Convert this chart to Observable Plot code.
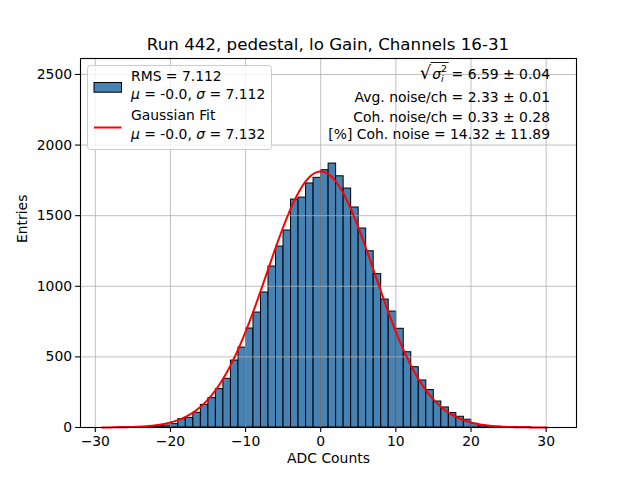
<!DOCTYPE html>
<html>
<head>
<meta charset="utf-8">
<script src="https://cdn.jsdelivr.net/npm/d3@7"></script>
<script src="https://cdn.jsdelivr.net/npm/@observablehq/plot@0.6"></script>
<style>
  html, body { margin: 0; padding: 0; background: #fff; }
  svg { font-family: "DejaVu Sans", sans-serif; }
</style>
</head>
<body>
<script>
// ---- data ----
const titleText = "Run 442, pedestal, lo Gain, Channels 16-31";
const binFirstEdge = -28.95;   // left edge of the first bin
const binWidth = 1;
// entries per bin (60 bins, left edges -28.95 ... 30.05)
const counts = [
  0, 0, 1, 1, 2, 3, 5, 9, 14, 24,
  59, 68, 104, 160, 208, 272, 345, 474, 566, 701,
  814, 956, 1140, 1281, 1395, 1614, 1628, 1728, 1768, 1822,
  1869, 1779, 1692, 1558, 1409, 1248, 1086, 906, 821, 699,
  533, 427, 333, 265, 184, 142, 102, 76, 55, 26,
  14, 9, 5, 3, 2, 1, 1, 0, 0, 0
];
// Gaussian fit parameters (from legend; amplitude read from the peak)
const fitMu = 0.0;
const fitSigma = 7.132;
const fitAmp = 1813;
const fitRange = [-29.1, 30.1];
const xTicks = [-30, -20, -10, 0, 10, 20, 30];
const yTicks = [0, 500, 1000, 1500, 2000, 2500];
const xDomain = [-31.97, 34.04];
const yDomain = [0, 2613];
const legendLines = [
  ["RMS = 7.112", ["μ", " = -0.0, ", "σ", " = 7.112"]],
  ["Gaussian Fit", ["μ", " = -0.0, ", "σ", " = 7.132"]]
];
const statsLines = [
  "Avg. noise/ch = 2.33 ± 0.01",
  "Coh. noise/ch = 0.33 ± 0.28",
  "[%] Coh. noise = 14.32 ± 11.89"
];
const sqrtValue = " = 6.59 ± 0.04";

// ---- derived tables ----
const bins = counts.map((c, i) => ({
  x1: binFirstEdge + i * binWidth,
  x2: binFirstEdge + (i + 1) * binWidth,
  n: c
}));
const fitX = d3.range(fitRange[0], fitRange[1] + 1e-9, 0.1);
const fit = fitX.map(x => ({x, y: fitAmp * Math.exp(-((x - fitMu) ** 2) / (2 * fitSigma ** 2))}));

const FS = 13.9;

const svg = Plot.plot({
  width: 640,
  height: 480,
  marginLeft: 80,
  marginRight: 64,
  marginTop: 58,
  marginBottom: 53,
  style: {fontFamily: "DejaVu Sans", fontSize: FS + "px", color: "black", background: "white"},
  x: {domain: xDomain, ticks: xTicks},
  y: {domain: yDomain, ticks: yTicks},
  marks: [
    Plot.rectY(bins, {x1: "x1", x2: "x2", y: "n", fill: "#4682b4", stroke: "black", strokeWidth: 1}),
    Plot.gridX(xTicks, {stroke: "#b0b0b0", strokeOpacity: 1, strokeWidth: 0.8}),
    Plot.gridY(yTicks, {stroke: "#b0b0b0", strokeOpacity: 1, strokeWidth: 0.8}),
    Plot.line(fit, {x: "x", y: "y", stroke: "red", strokeWidth: 2}),
    Plot.frame({stroke: "black", strokeWidth: 1.1}),
    Plot.axisX(xTicks, {tickSize: 4.9, tickPadding: 4, strokeWidth: 1.1, fontSize: FS, label: null}),
    Plot.axisY(yTicks, {tickSize: 4.9, tickPadding: 3.5, strokeWidth: 1.1, fontSize: FS, label: null, tickFormat: d3.format("d")}),
    Plot.text(["ADC Counts"], {frameAnchor: "bottom", dy: 35, text: d => d, fontSize: FS, fill: "black"}),
    Plot.text(["Entries"], {frameAnchor: "left", dx: -58, rotate: -90, text: d => d, fontSize: FS, fill: "black"})
  ]
});
document.body.appendChild(svg);

const s = d3.select(svg);
// title
s.append("text").attr("x", 328).attr("y", 50).attr("text-anchor", "middle")
  .attr("font-size", "16.7px").attr("fill", "black").text(titleText);

// legend
const lg = s.append("g").attr("text-anchor", "start");
lg.append("rect").attr("x", 87.5).attr("y", 65.5).attr("width", 184).attr("height", 84)
  .attr("rx", 3).attr("fill", "white").attr("fill-opacity", 0.8).attr("stroke", "#cccccc").attr("stroke-width", 1);
lg.append("rect").attr("x", 94).attr("y", 82.5).attr("width", 27.5).attr("height", 9.7)
  .attr("fill", "#4682b4").attr("stroke", "black").attr("stroke-width", 1);
lg.append("line").attr("x1", 94).attr("x2", 121.5).attr("y1", 127.5).attr("y2", 127.5)
  .attr("stroke", "red").attr("stroke-width", 2);
const legendBase = [[81, 99], [120, 139]];
legendLines.forEach(([l1, parts], i) => {
  lg.append("text").attr("x", 131).attr("y", legendBase[i][0]).attr("text-anchor", "start")
    .attr("font-size", FS + "px").attr("fill", "black").text(l1);
  const t = lg.append("text").attr("x", 131).attr("y", legendBase[i][1]).attr("text-anchor", "start")
    .attr("font-size", FS + "px").attr("fill", "black");
  parts.forEach((p, j) => t.append("tspan").attr("font-style", j % 2 === 0 ? "italic" : "normal").text(p));
});

// stats text (top right)
const st = s.append("g").attr("font-size", FS + "px").attr("fill", "black");
const t1 = st.append("text").attr("x", 550).attr("y", 79).attr("text-anchor", "end");
t1.append("tspan").attr("font-size", "18px").text("√");
t1.append("tspan").attr("font-style", "italic").attr("dx", 1).text("σ");
t1.append("tspan").attr("font-size", "9.5px").attr("dy", -7).text("2");
t1.append("tspan").attr("font-size", "9.5px").attr("font-style", "italic").attr("dx", -6.1).attr("dy", 10).text("i");
t1.append("tspan").attr("dx", 3.5).attr("dy", -3).text(sqrtValue);
const node = t1.node();
try {
  const xa = node.getEndPositionOfChar(0).x;
  const xb = Math.max(node.getEndPositionOfChar(2).x, node.getEndPositionOfChar(3).x);
  st.append("line").attr("x1", xa - 0.8).attr("x2", xb + 1.5).attr("y1", 62.5).attr("y2", 62.5)
    .attr("stroke", "black").attr("stroke-width", 0.9);
} catch (e) {}
const statBase = [102, 122, 139];
statsLines.forEach((l, i) => {
  st.append("text").attr("x", 550).attr("y", statBase[i]).attr("text-anchor", "end").text(l);
});
</script>
</body>
</html>
